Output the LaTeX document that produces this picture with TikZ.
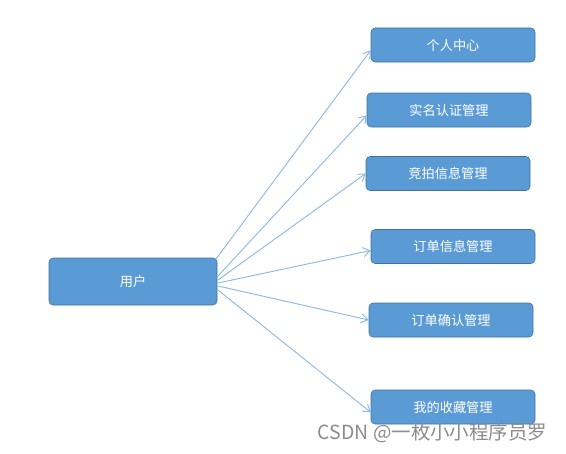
\documentclass[tikz,border=0pt]{standalone}
\usepackage{fontspec}
\setmainfont{Noto Sans CJK SC}
\usetikzlibrary{arrows.meta, positioning}
\definecolor{boxblue}{HTML}{5B9BD5}
\definecolor{boxedge}{HTML}{41719C}
\definecolor{linkblue}{HTML}{8DB9E2}

\begin{document}
\begin{tikzpicture}[x=0.75pt,y=-0.75pt,font=\fontsize{9.9}{11}\selectfont,
    modbox/.style={draw=boxedge,fill=boxblue,rounded corners=3pt,text=white,
      minimum width=123pt,minimum height=25.5pt,inner sep=0pt},
    link/.style={linkblue,line width=0.7pt,-{Straight Barb[length=1.8mm,width=2.4mm]}}]
    \useasboundingbox (0,0) rectangle (566,453);
    \node[modbox,minimum width=126pt,minimum height=35.25pt] (user) at (133,281.5) {用户};
    \node[modbox] (center) at (453,45) {个人中心};
    \node[modbox] (realname) at (449,110) {实名认证管理};
    \node[modbox] (auction) at (448,173.5) {竞拍信息管理};
    \node[modbox] (orderinfo) at (453,246.5) {订单信息管理};
    \node[modbox] (orderok) at (451,320) {订单确认管理};
    \node[modbox] (favorite) at (453,407) {我的收藏管理};
    \coordinate (u1) at (216,259);
    \coordinate (u2) at (218,276);
    \coordinate (u3) at (218,280);
    \coordinate (u4) at (218,283);
    \coordinate (u5) at (218,286);
    \coordinate (u6) at (218,290);
    \draw[link] (u1) -- ([yshift=-4pt]center.west);
    \draw[link] (u2) -- ([yshift=-4pt]realname.west);
    \draw[link] (u3) -- (auction.west);
    \draw[link] (u4) -- ([yshift=-3pt]orderinfo.west);
    \draw[link] (u5) -- (orderok.west);
    \draw[link] (u6) -- ([yshift=-4pt]favorite.west);
    % watermark
    \node[font=\fontsize{14.6}{16}\selectfont,text=black!45,anchor=east] (mark) at (552,433) {CSDN @一枚小小程序员罗};
\end{tikzpicture}
\end{document}
